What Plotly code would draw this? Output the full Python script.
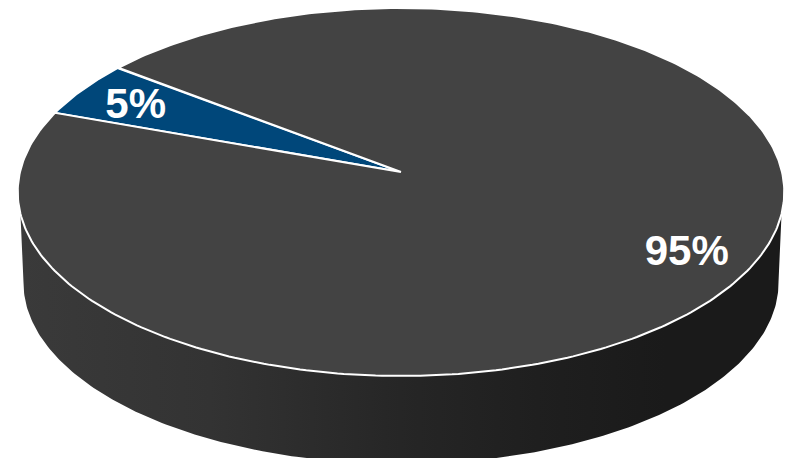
import numpy as np
import plotly.graph_objects as go

labels = ["5%", "95%"]
values = [5, 95]
slice_colors = ["#00477A", "#434343"]
label_radius = [0.812, 0.835]
label_angle_shift_deg = [1.8, -2.4]
first_slice_start_deg = 142.3

W, H = 792, 458
CX, CY = 401, 172
B, A, K = 381, 181.8, 0.1087
DEPTH, SHRINK = 91, 0.985


def project(theta, r=1.0, scale=1.0, dy=0.0):
    X, Y = r * np.cos(theta), r * np.sin(theta)
    w = 1 + K * Y
    return CX + scale * B * X / w, CY + dy + scale * A * (-Y) / w


fig = go.Figure()

# side wall: front of the disc, between the bottom rim and the top rim
t_bottom = np.radians(np.linspace(186, 354, 240))
t_top = np.radians(np.linspace(347, 193, 240))
xb, yb = project(t_bottom, scale=SHRINK, dy=DEPTH)
xt, yt = project(t_top)
fig.add_trace(go.Scatter(
    x=np.r_[xb, xt], y=np.r_[yb, yt], mode="lines", fill="toself",
    line=dict(width=0), hoverinfo="skip",
    fillgradient=dict(type="horizontal", start=20, stop=780,
                      colorscale=[[0, "#3A3A3A"], [0.25, "#333333"], [0.5, "#262626"],
                                  [0.68, "#1F1F1F"], [0.85, "#1A1A1A"], [1, "#1A1A1A"]]),
))

# top face slices, angles from the values
fractions = np.array(values) / sum(values)
edges = np.radians(first_slice_start_deg) + np.r_[0, np.cumsum(fractions)] * 2 * np.pi
for i in range(len(values)):
    t = np.linspace(edges[i], edges[i + 1], 400)
    x, y = project(t)
    fig.add_trace(go.Scatter(
        x=np.r_[CX, x, CX], y=np.r_[CY, y, CY], mode="lines", fill="toself",
        fillcolor=slice_colors[i], line=dict(color="white", width=2), hoverinfo="skip",
    ))

mid = (edges[:-1] + edges[1:]) / 2 + np.radians(label_angle_shift_deg)
lx, ly = project(mid, r=np.array(label_radius))
fig.add_trace(go.Scatter(
    x=lx, y=ly, mode="text", text=labels, textposition="middle center",
    textfont=dict(family="Liberation Sans", size=42, color="white", weight="bold"),
    hoverinfo="skip",
))

fig.update_layout(
    width=W, height=H, margin=dict(l=0, r=0, t=0, b=0), showlegend=False,
    paper_bgcolor="white", plot_bgcolor="white",
    xaxis=dict(range=[0, W], visible=False, fixedrange=True),
    yaxis=dict(range=[H, 0], visible=False, fixedrange=True),
)
fig.write_html("out.html", config={"displayModeBar": False},
               post_script="document.body.style.margin='0';document.body.style.overflow='hidden';")
